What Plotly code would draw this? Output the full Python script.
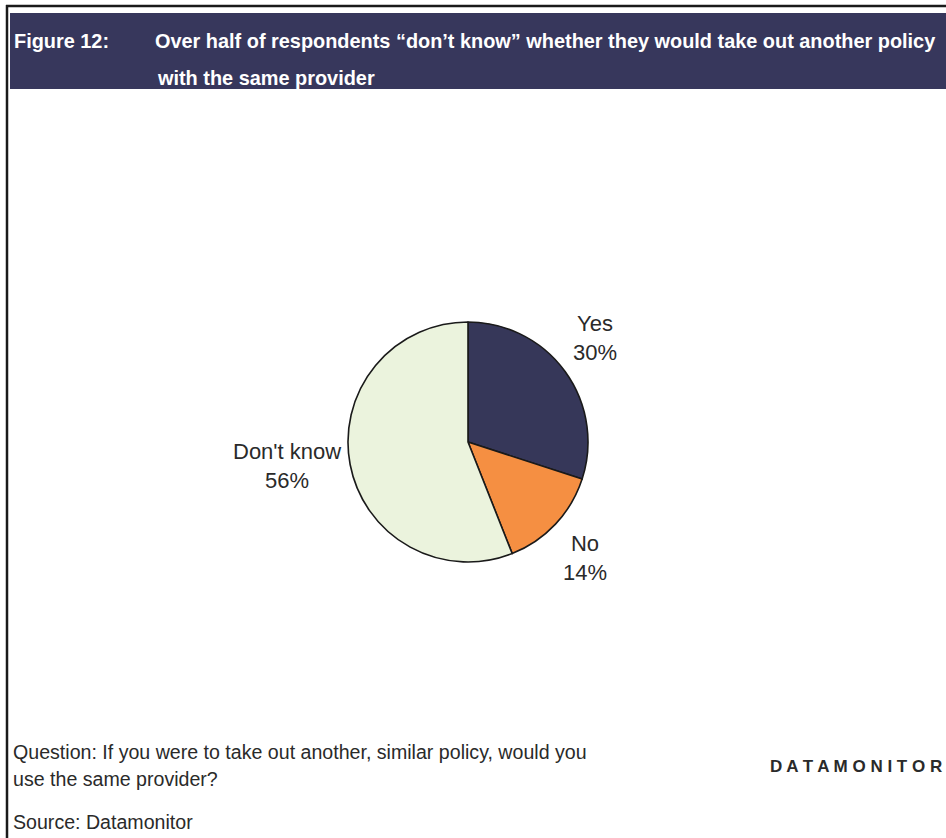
import math
import plotly.graph_objects as go

# Survey responses
categories = ["Yes", "No", "Don't know"]
shares = [30, 14, 56]
slice_colors = ["#363759", "#F58F42", "#EBF3DD"]

title_lines = [
    "Over half of respondents \u201cdon\u2019t know\u201d whether they would take out another policy",
    "with the same provider",
]
figure_tag = "Figure 12:"
question_lines = [
    "Question: If you were to take out another, similar policy, would you",
    "use the same provider?",
]
source_note = "Source: Datamonitor"
brand = "D A T A M O N I T O R"

W, H = 946, 838
FONT = "Liberation Sans, Arial, sans-serif"

# pie placement in pixels
cx, cy, r = 468, 442, 120


def px(x):
    return x / W


def py(y):
    return 1 - y / H


fig = go.Figure()
fig.add_trace(go.Pie(
    labels=categories,
    values=shares,
    sort=False,
    direction="clockwise",
    rotation=0,
    marker=dict(colors=slice_colors, line=dict(color="#1a1a1a", width=1.6)),
    textinfo="none",
    hoverinfo="label+percent",
    showlegend=False,
    domain=dict(x=[px(cx - r), px(cx + r)], y=[py(cy + r), py(cy - r)]),
))

annotations = []

# slice labels placed just outside each slice's mid-angle
total = sum(shares)
acc = 0
for name, v in zip(categories, shares):
    mid = (acc + v / 2) / total * 2 * math.pi
    acc += v
    s, c = math.sin(mid), math.cos(mid)
    lr = r + 7
    x = cx + lr * s
    y = cy - lr * c
    xa = "left" if s > 0.3 else ("right" if s < -0.3 else "center")
    ya = "bottom" if c > 0.3 else ("top" if c < -0.3 else "middle")
    annotations.append(dict(
        x=px(x), y=py(y), xref="paper", yref="paper",
        text=f"{name}<br>{v}%", showarrow=False, align="center",
        xanchor=xa, yanchor=ya,
        font=dict(family=FONT, size=22, color="#2a2a2a"),
    ))

# header text
header_font = dict(family=FONT, size=19.9, color="white")
annotations.append(dict(
    x=px(12), y=py(41), xref="paper", yref="paper", text=f"<b>{figure_tag}</b>",
    showarrow=False, xanchor="left", yanchor="middle", font=header_font,
))
annotations.append(dict(
    x=px(153), y=py(41), xref="paper", yref="paper", text=f"<b>{title_lines[0]}</b>",
    showarrow=False, xanchor="left", yanchor="middle", font=header_font,
))
annotations.append(dict(
    x=px(155), y=py(78), xref="paper", yref="paper", text=f"<b>{title_lines[1]}</b>",
    showarrow=False, xanchor="left", yanchor="middle", font=header_font,
))

# footer text
footer_font = dict(family=FONT, size=19.6, color="#2a2a2a")
for i, line in enumerate(question_lines):
    annotations.append(dict(
        x=px(11), y=py(752 + 27 * i), xref="paper", yref="paper", text=line,
        showarrow=False, xanchor="left", yanchor="middle", font=footer_font,
    ))
annotations.append(dict(
    x=px(11), y=py(822), xref="paper", yref="paper", text=source_note,
    showarrow=False, xanchor="left", yanchor="middle", font=footer_font,
))
annotations.append(dict(
    x=px(768), y=py(766), xref="paper", yref="paper", text=f"<b>{brand}</b>",
    showarrow=False, xanchor="left", yanchor="middle",
    font=dict(family=FONT, size=17, color="#2a2a2a"),
))

shapes = [
    # outer frame
    dict(type="line", xref="paper", yref="paper", x0=px(7), x1=px(7), y0=py(5), y1=0,
         line=dict(color="#1a1a1a", width=2.5)),
    dict(type="line", xref="paper", yref="paper", x0=px(6), x1=1, y0=py(6), y1=py(6),
         line=dict(color="#1a1a1a", width=2.5)),
    # header bar
    dict(type="rect", xref="paper", yref="paper", x0=px(10), x1=1, y0=py(89), y1=py(13),
         fillcolor="#37375C", line=dict(width=0), layer="below"),
]

fig.update_layout(
    width=W, height=H,
    margin=dict(l=0, r=0, t=0, b=0),
    paper_bgcolor="white",
    plot_bgcolor="white",
    annotations=annotations,
    shapes=shapes,
)

fig.write_html("out.html")
